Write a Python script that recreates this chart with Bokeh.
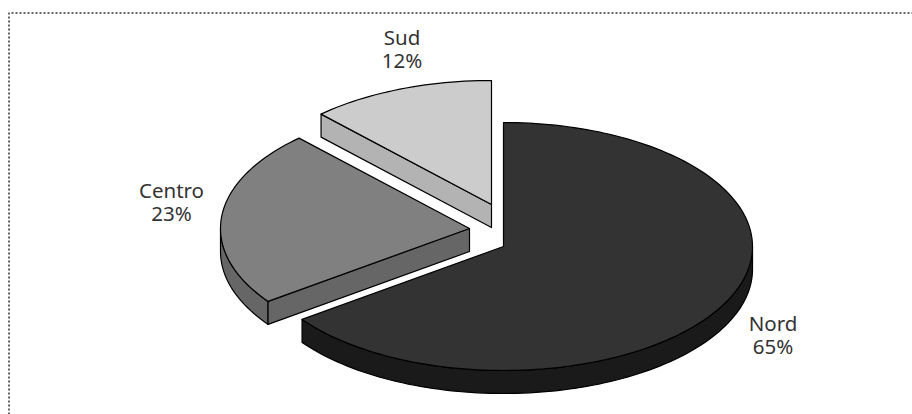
import math
from bokeh.plotting import figure
from bokeh.models import Range1d
from bokeh.core.properties import value
from bokeh.embed import file_html
from bokeh.resources import INLINE

regions = ["Nord", "Centro", "Sud"]
shares = [65, 23, 12]
top_colors = ["#333333", "#808080", "#cccccc"]
wall_colors = ["#1a1a1a", "#666666", "#b3b3b3"]
centers = [(503, 246), (469, 228), (491, 204)]
label_pos = [(772.5, 322), (171, 189), (401.5, 36)]

RX, RY, DEPTH = 249, 124, 23
FONT = value("Noto Sans")

p = figure(width=912, height=414, output_backend="svg", toolbar_location=None,
           x_range=Range1d(0, 912), y_range=Range1d(414, 0),
           min_border=0, outline_line_color=None)
p.axis.visible = False
p.grid.visible = False
p.background_fill_color = "#ffffff"
p.border_fill_color = "#ffffff"


def rim(cx, cy, start, end, dy=0):
    # Points on the ellipse; angle runs clockwise from the top of the pie
    n = max(2, int(abs(end - start) / 1.5) + 1)
    pts = [start + (end - start) * i / (n - 1) for i in range(n)]
    xs = [cx + RX * math.sin(math.radians(a)) for a in pts]
    ys = [cy - RY * math.cos(math.radians(a)) + dy for a in pts]
    return xs, ys


def draw_patch(xs, ys, color):
    p.patch(xs, ys, fill_color=color, line_color="#000000", line_width=1.2, line_join="round")


# Dotted frame along the top and left sides
p.line([8.5, 8.5, 912], [414, 12.5, 12.5], line_color="#333333", line_width=1.5, line_dash="2 2")

angle = 0.0
slices = []
for share in shares:
    sweep = share / sum(shares) * 360
    slices.append((angle, angle + sweep))
    angle += sweep

# Farthest slice first so the nearer ones overlap it
for i in [2, 1, 0]:
    cx, cy = centers[i]
    start, end = slices[i]

    # Outer wall: the part of the rim on the front half of the ellipse
    a0, a1 = max(start, 90), min(end, 270)
    if a1 > a0:
        xs, ys = rim(cx, cy, a0, a1)
        xb, yb = rim(cx, cy, a0, a1, DEPTH)
        draw_patch(xs + xb[::-1], ys + yb[::-1], wall_colors[i])

    # Cut face that looks towards the viewer
    if i > 0:
        xe, ye = rim(cx, cy, start, start)
        xe, ye = xe[0], ye[0]
        draw_patch([cx, xe, xe, cx], [cy, ye, ye + DEPTH, cy + DEPTH], wall_colors[i])

    # Top face
    xs, ys = rim(cx, cy, start, end)
    draw_patch([cx] + xs, [cy] + ys, top_colors[i])

for name, share, (lx, ly) in zip(regions, shares, label_pos):
    for text, y in ((name, ly), (f"{share}%", ly + 23)):
        p.text([lx], [y], text=[text], text_font=FONT, text_font_size="20.5px",
               text_color="#333333", text_align="center", text_baseline="middle")

open("out.html", "w").write(file_html(p, INLINE))
